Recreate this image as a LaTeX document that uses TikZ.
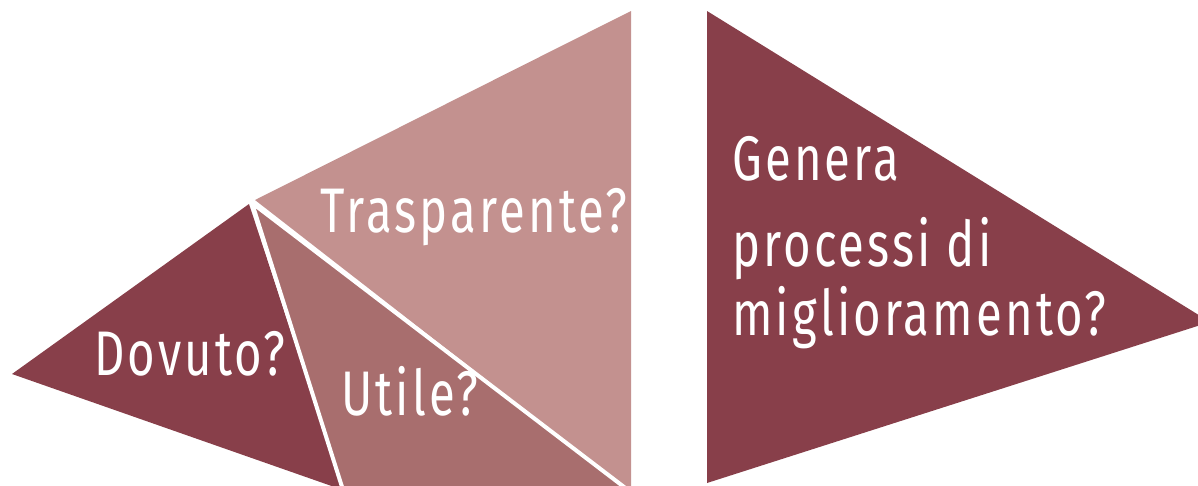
\documentclass[tikz,border=0pt]{standalone}
\usepackage{fontspec}
\setmainfont[FakeStretch=0.75,LetterSpace=5]{Fira Sans}
\definecolor{cdark}{HTML}{883F4A}
\definecolor{cmid}{HTML}{A86E6E}
\definecolor{clight}{HTML}{C3918F}
\begin{document}
\begin{tikzpicture}[x=1pt,y=-1pt,
  lbl/.style={text=white, font=\fontsize{63}{63}\selectfont, inner sep=0pt, anchor=base west},
  sep/.style={draw=white, line width=4pt}]
\useasboundingbox (0,0) rectangle (1198,485);
\clip (0,0) rectangle (1198,485);
% left composite shape
\coordinate (A) at (12,374);
\coordinate (P) at (252,203);
\coordinate (T) at (631,11);
\coordinate (BR) at (631,490);
\coordinate (B1) at (343,490);
\coordinate (B2) at (628,490);
\fill[cdark] (A) -- (249,204) -- (B1) -- cycle;
\fill[cmid] (P) -- (B1) -- (B2) -- cycle;
\fill[clight] (255,200) -- (T) -- (BR) -- (B2) -- cycle;
\draw[sep] (P) -- (B1);
\draw[sep] (P) -- (B2);
% right triangle
\coordinate (R1) at (707,11);
\coordinate (R2) at (707,483);
\coordinate (R3) at (1210,322);
\fill[cdark] (R1) -- (R3) -- (R2) -- cycle;
% labels
\node[lbl] (dov) at (94,375) {Dovuto?};
\node[lbl] (uti) at (341,415) {Utile?};
\node[lbl] (tra) at (320,232) {Trasparente?};
\node[lbl] (gen1) at (732,180) {Genera};
\node[lbl] (gen2) at (732,266) {processi di};
\node[lbl] (gen3) at (732,335) {miglioramento?};
\end{tikzpicture}
\end{document}
